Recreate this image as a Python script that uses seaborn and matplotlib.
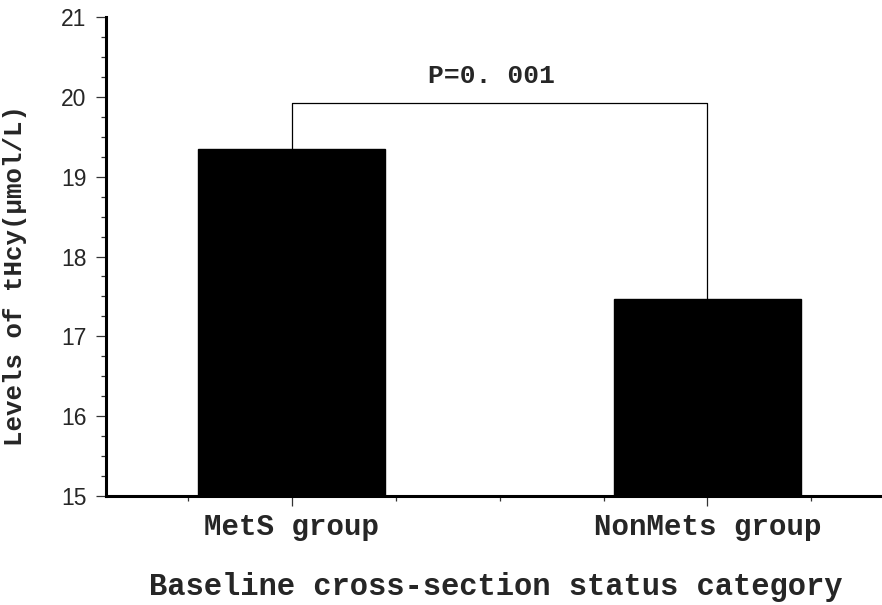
import pandas as pd
import seaborn as sns
import matplotlib.pyplot as plt
from matplotlib.ticker import MultipleLocator

groups = ["MetS group", "NonMets group"]
thcy = [19.35, 17.47]
bracket_top = 19.92
p_label = "P=0. 001"
y_ticks = [15, 16, 17, 18, 19, 20, 21]

df = pd.DataFrame({"group": groups, "thcy": thcy})

sns.set_style("ticks")
mono = ["Liberation Mono", "DejaVu Sans Mono"]

fig = plt.figure(figsize=(8.82, 6.05), dpi=100)
ax = fig.add_axes([0.120, 0.180, 0.880, 0.792])

sns.barplot(data=df, x="group", y="thcy", color="black", width=0.45,
            saturation=1, ax=ax)
for p in ax.patches:
    p.set_edgecolor("black")

ax.set_ylim(15, 21)
ax.set_xlim(-0.448, 1.42)
ax.set_yticks(y_ticks)
ax.yaxis.set_minor_locator(MultipleLocator(0.25))
ax.xaxis.set_minor_locator(MultipleLocator(0.25))

sns.despine(ax=ax)
for side in ["left", "bottom"]:
    ax.spines[side].set_linewidth(2.2)
    ax.spines[side].set_color("black")

ax.tick_params(which="major", length=7, width=0.9, color="#333333")
ax.tick_params(which="minor", length=3.5, width=0.9, color="#333333")
ax.tick_params(axis="y", which="major", pad=7)
ax.tick_params(axis="x", which="major", pad=5)

for lab in ax.get_yticklabels():
    lab.set_fontfamily("Liberation Sans")
    lab.set_fontsize(16.5)
for lab in ax.get_xticklabels():
    lab.set_fontfamily(mono)
    lab.set_fontsize(21)
    lab.set_fontweight("bold")

# significance bracket
ax.plot([0, 0, 1, 1], [thcy[0], bracket_top, bracket_top, thcy[1]],
        color="black", lw=0.9)
ax.text(0.48, 20.26, p_label, ha="center", va="center",
        fontsize=19, fontweight="bold", family=mono)

ax.set_ylabel("Levels of tHcy(μmol/L)", fontsize=18.5, fontweight="bold",
              family=mono)
ax.yaxis.set_label_coords(27 / 882, 1 - 276 / 605, transform=fig.transFigure)
ax.set_xlabel("Baseline cross-section status category", fontsize=22,
              fontweight="bold", family=mono, va="center")
ax.xaxis.set_label_coords(496 / 882, 1 - 587 / 605, transform=fig.transFigure)

fig.savefig("out.png", dpi=100)
